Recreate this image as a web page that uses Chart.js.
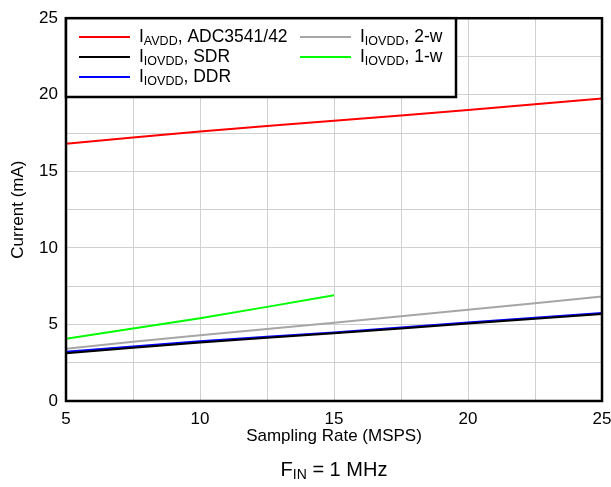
<!DOCTYPE html>
<html>
<head>
<meta charset="utf-8">
<script src="https://cdn.jsdelivr.net/npm/chart.js@4.4.1/dist/chart.umd.min.js"></script>
<style>
  html, body { margin: 0; padding: 0; background: #fff; }
  #wrap { width: 611px; height: 487px; }
</style>
</head>
<body>
<div id="wrap"><canvas id="chart" width="611" height="487"></canvas></div>
<script>
// sampling rate (MSPS)
const rates = [5, 10, 15, 20, 25];
const ratesOneWire = [5, 10, 15];

// current (mA)
const avdd = [16.8, 17.6, 18.3, 19.0, 19.76];
const iovddSdr = [3.12, 3.82, 4.42, 5.06, 5.68];
const iovddDdr = [3.22, 3.9, 4.48, 5.12, 5.74];
const iovdd2w = [3.42, 4.3, 5.11, 5.96, 6.82];
const iovdd1w = [4.07, 5.41, 6.9];

const yTicks = [0, 5, 10, 15, 20, 25];

const FONT = "'Liberation Sans', Arial, sans-serif";

const series = [
    { parts: [["I"], ["AVDD", 1], [", ADC3541/42"]], color: "#ff0000", x: rates, y: avdd },
    { parts: [["I"], ["IOVDD", 1], [", 2-w"]], color: "#a6a6a6", x: rates, y: iovdd2w },
    { parts: [["I"], ["IOVDD", 1], [", 1-w"]], color: "#00ff00", x: ratesOneWire, y: iovdd1w },
    { parts: [["I"], ["IOVDD", 1], [", SDR"]], color: "#000000", x: rates, y: iovddSdr },
    { parts: [["I"], ["IOVDD", 1], [", DDR"]], color: "#0000ff", x: rates, y: iovddDdr }
];

// legend slots: [series index, column, row]
const legendSlots = [[0, 0, 0], [3, 0, 1], [4, 0, 2], [1, 1, 0], [2, 1, 1]];

function drawRich(ctx, x, y, parts, size, subSize) {
    ctx.textBaseline = "middle";
    ctx.textAlign = "left";
    parts.forEach(p => {
        const sub = p[1] === 1;
        ctx.font = (sub ? subSize : size) + "px " + FONT;
        ctx.fillText(p[0], x, sub ? y + size * 0.25 : y);
        x += ctx.measureText(p[0]).width;
    });
    return x;
}

function measureRich(ctx, parts, size, subSize) {
    let w = 0;
    parts.forEach(p => {
        ctx.font = (p[1] === 1 ? subSize : size) + "px " + FONT;
        w += ctx.measureText(p[0]).width;
    });
    return w;
}

const decorPlugin = {
    id: "decor",
    afterDatasetsDraw(chart) {
        const ctx = chart.ctx;
        const a = chart.chartArea;
        ctx.save();

        // frame
        ctx.strokeStyle = "#000";
        ctx.lineWidth = 2.5;
        ctx.strokeRect(a.left, a.top, a.right - a.left, a.bottom - a.top);

        // legend box
        const box = { l: a.left, t: a.top, r: 456, b: 97 };
        ctx.fillStyle = "#fff";
        ctx.fillRect(box.l, box.t, box.r - box.l, box.b - box.t);
        ctx.strokeRect(box.l, box.t, box.r - box.l, box.b - box.t);

        const colX = [79, 300];
        const rowY = [37, 57, 77];
        legendSlots.forEach(([si, c, r]) => {
            const s = series[si];
            ctx.strokeStyle = s.color;
            ctx.lineWidth = 2;
            ctx.beginPath();
            ctx.moveTo(colX[c], rowY[r]);
            ctx.lineTo(colX[c] + 51, rowY[r]);
            ctx.stroke();
            ctx.fillStyle = "#000";
            drawRich(ctx, colX[c] + 60, rowY[r], s.parts, 17.5, 12.5);
        });

        // caption under the x axis
        const cap = [["F"], ["IN", 1], [" = 1 MHz"]];
        const w = measureRich(ctx, cap, 20, 14);
        ctx.fillStyle = "#000";
        drawRich(ctx, (a.left + a.right) / 2 - w / 2, 470, cap, 20, 14);

        ctx.restore();
    }
};

new Chart(document.getElementById("chart"), {
    type: "line",
    data: {
        datasets: series.map(s => ({
            data: s.x.map((x, i) => ({ x: x, y: s.y[i] })),
            borderColor: s.color,
            backgroundColor: s.color,
            borderWidth: 2,
            pointRadius: 0,
            tension: 0.3,
            fill: false
        }))
    },
    options: {
        responsive: false,
        animation: false,
        layout: { padding: { left: 0, top: 16, right: 9, bottom: 40 } },
        plugins: {
            legend: { display: false },
            tooltip: { enabled: false }
        },
        scales: {
            x: {
                type: "linear",
                min: 5,
                max: 25,
                afterFit: scale => {
                    scale.height = 46;
                    scale.paddingRight = 0;
                    scale.paddingLeft = 0;
                },
                ticks: {
                    stepSize: 2.5,
                    autoSkip: false,
                    maxRotation: 0,
                    padding: 8,
                    color: "#000",
                    font: { family: FONT, size: 17 },
                    callback: v => (v % 5 === 0 ? v : "")
                },
                grid: { color: "#d0d0d0", lineWidth: 1, drawTicks: false },
                border: { display: false },
                title: {
                    display: true,
                    text: "Sampling Rate (MSPS)",
                    color: "#000",
                    font: { family: FONT, size: 17 },
                    padding: 0
                }
            },
            y: {
                min: 0,
                max: 25,
                afterFit: scale => { scale.width = 66; },
                ticks: {
                    stepSize: 2.5,
                    autoSkip: false,
                    padding: 8,
                    color: "#000",
                    font: { family: FONT, size: 17 },
                    callback: v => (yTicks.includes(v) ? v : "")
                },
                grid: { color: "#d0d0d0", lineWidth: 1, drawTicks: false },
                border: { display: false },
                title: {
                    display: true,
                    text: "Current (mA)",
                    color: "#000",
                    font: { family: FONT, size: 17 },
                    padding: { top: 8, bottom: 0 }
                }
            }
        }
    },
    plugins: [decorPlugin]
});
</script>
</body>
</html>
